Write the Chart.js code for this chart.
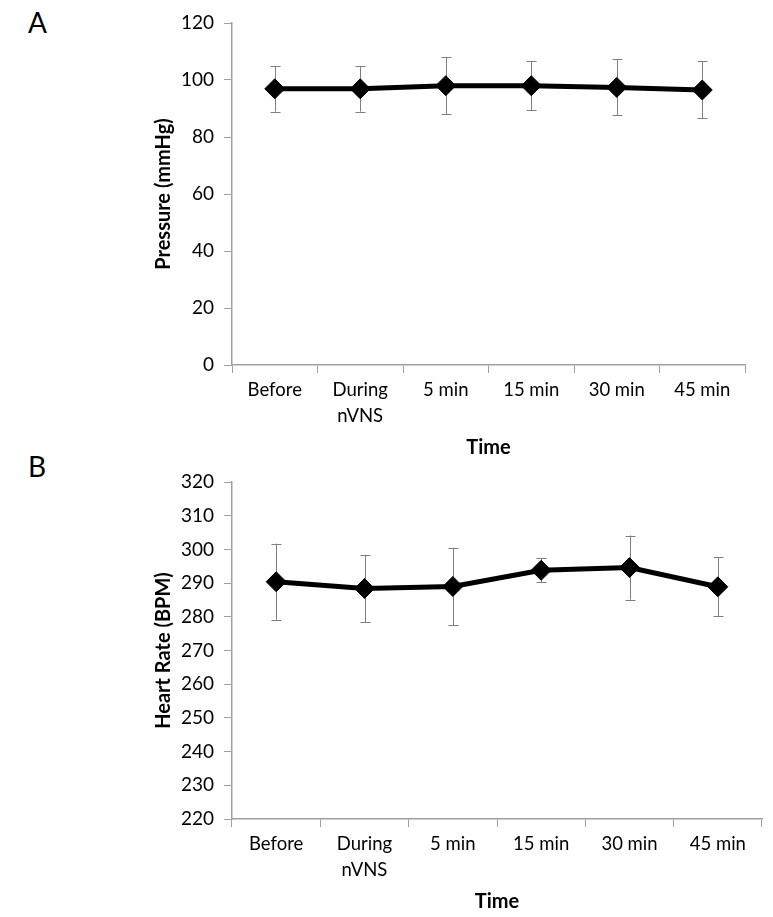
<!DOCTYPE html>
<html>
<head>
<meta charset="utf-8">
<script src="https://cdn.jsdelivr.net/npm/chart.js@4/dist/chart.umd.min.js"></script>
<style>
  body { margin: 0; background: #fff; width: 773px; height: 917px; position: relative; overflow: hidden; font-family: Lato, sans-serif; }
  .panel-letter { position: absolute; left: 28px; font-size: 28px; color: #000; }
  .box { position: absolute; }
</style>
</head>
<body>
<div class="panel-letter" style="top: 5px;">A</div>
<div class="panel-letter" style="top: 449px;">B</div>
<div class="box" id="boxA" style="left:152px; top:0px; width:604px; height:460px;"><canvas id="chartA"></canvas></div>
<div class="box" id="boxB" style="left:152px; top:459px; width:621px; height:455px;"><canvas id="chartB"></canvas></div>
<script>
// categories
const timeLabels = ['Before', ['During', 'nVNS'], '5 min', '15 min', '30 min', '45 min'];

// A: mean arterial pressure
const pressureMean = [96.9, 96.9, 98.0, 98.0, 97.4, 96.5];
const pressureErr = [8.0, 8.0, 9.9, 8.7, 9.8, 10.0];

// B: heart rate
const heartMean = [290.4, 288.4, 289.0, 293.8, 294.6, 288.9];
const heartErr = [11.3, 10.0, 11.5, 3.5, 9.5, 8.7];

const FONT = 'Lato, sans-serif';
const AXIS_GREY = '#a0a0a0';

// draws the vertical error bars behind the line
const errorBars = {
    id: 'errorBars',
    beforeDatasetsDraw(chart, args, opts) {
        const ctx = chart.ctx;
        const meta = chart.getDatasetMeta(0);
        const yScale = chart.scales.y;
        const means = chart.data.datasets[0].data;
        ctx.save();
        ctx.strokeStyle = '#7f7f7f';
        ctx.lineWidth = 1;
        meta.data.forEach((pt, i) => {
            const top = yScale.getPixelForValue(means[i] + opts.err[i]);
            const bot = yScale.getPixelForValue(means[i] - opts.err[i]);
            const x = Math.round(pt.x) + 0.5;
            ctx.beginPath();
            ctx.moveTo(x, top); ctx.lineTo(x, bot);
            ctx.moveTo(x - 5, Math.round(top) + 0.5); ctx.lineTo(x + 5, Math.round(top) + 0.5);
            ctx.moveTo(x - 5, Math.round(bot) + 0.5); ctx.lineTo(x + 5, Math.round(bot) + 0.5);
            ctx.stroke();
        });
        ctx.restore();
    }
};

function makeChart(id, means, errs, yMin, yMax, yStep, yTitle) {
    return new Chart(document.getElementById(id), {
        type: 'line',
        data: {
            labels: timeLabels,
            datasets: [{
                data: means,
                borderColor: '#000',
                borderWidth: 5,
                backgroundColor: '#000',
                pointStyle: 'rectRot',
                pointRadius: 10,
                pointBorderWidth: 1,
                tension: 0
            }]
        },
        options: {
            responsive: true,
            maintainAspectRatio: false,
            animation: false,
            layout: { padding: { top: 23, left: 0, right: 0, bottom: 0 } },
            plugins: {
                legend: { display: false },
                tooltip: { enabled: false },
                errorBars: { err: errs }
            },
            scales: {
                x: {
                    offset: true,
                    grid: { display: true, drawOnChartArea: false, offset: true, color: AXIS_GREY, tickLength: 8 },
                    border: { color: AXIS_GREY, width: 1.5 },
                    ticks: { color: '#000', font: { family: FONT, size: 18.5, lineHeight: 1.4 }, padding: 4, maxRotation: 0 },
                    title: { display: true, text: 'Time', color: '#000', font: { family: FONT, size: 20, weight: 'bold' }, padding: 0 },
                    afterFit(scale) { scale.height = 95; }
                },
                y: {
                    min: yMin,
                    max: yMax,
                    grid: { display: true, drawOnChartArea: false, color: AXIS_GREY, tickLength: 8 },
                    border: { color: AXIS_GREY, width: 1.5 },
                    ticks: { stepSize: yStep, color: '#000', font: { family: FONT, size: 19 }, padding: 10 },
                    title: { display: true, text: yTitle, color: '#000', font: { family: FONT, size: 20, weight: 'bold' }, padding: 0 },
                    afterFit(scale) { scale.width = 80; }
                }
            }
        },
        plugins: [errorBars]
    });
}

makeChart('chartA', pressureMean, pressureErr, 0, 120, 20, 'Pressure (mmHg)');
makeChart('chartB', heartMean, heartErr, 220, 320, 10, 'Heart Rate (BPM)');
</script>
</body>
</html>
